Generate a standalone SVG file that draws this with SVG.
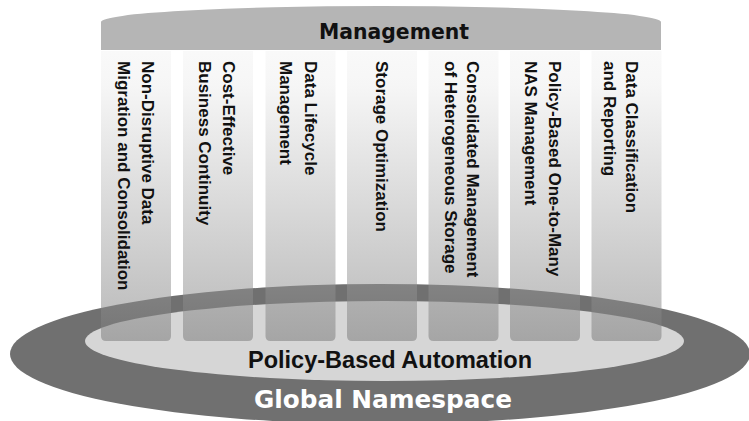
<svg xmlns="http://www.w3.org/2000/svg" width="749" height="421" viewBox="0 0 749 421">
  <style>
    .col { fill: url(#colFill); fill-opacity: 0.53; }
    .colText { font-family: "Liberation Sans", Arial, sans-serif; font-weight: bold; font-size: 17px; fill: #111; }
    .title { font-family: "DejaVu Sans", sans-serif; font-weight: bold; }
  </style>
  <defs>
    <linearGradient id="colFill" gradientUnits="userSpaceOnUse" x1="0" y1="51" x2="0" y2="341">
      <stop offset="0" stop-color="#f4f4f4"/>
      <stop offset="0.12" stop-color="#eeeeee"/>
      <stop offset="1" stop-color="#7a7a7a"/>
    </linearGradient>
    <!-- column shape: square top, rounded bottom corners -->
    <path id="colShape" d="M0,51 H70 V336 Q70,341 65,341 H5 Q0,341 0,336 Z"/>
  </defs>

  <!-- base rings -->
  <g id="global-namespace">
    <ellipse cx="380" cy="354" rx="370" ry="70" fill="#707070"/>
    <text class="title" x="254" y="408" font-size="24.8" fill="#ffffff" textLength="258" lengthAdjust="spacingAndGlyphs">Global Namespace</text>
  </g>
  <g id="policy-based-automation">
    <ellipse cx="384.5" cy="341" rx="299.5" ry="40" fill="#d6d6d6"/>
    <text x="248" y="368" font-family="'Liberation Sans', Arial, sans-serif" font-weight="bold" font-size="23.5" fill="#111" textLength="284" lengthAdjust="spacingAndGlyphs">Policy-Based Automation</text>
  </g>

  <!-- management header -->
  <g id="management">
    <path d="M101,50 V22 A280,16 0 0 1 661,22 V50 Z" fill="#b5b5b5"/>
    <text class="title" x="319" y="39" font-size="20.5" fill="#111" textLength="150" lengthAdjust="spacingAndGlyphs">Management</text>
  </g>

  <!-- service columns -->
  <g id="col-migration">
    <use href="#colShape" class="col" x="101"/>
    <text class="colText" transform="translate(142,61) rotate(90)">Non-Disruptive Data</text>
    <text class="colText" transform="translate(118,61) rotate(90)">Migration and Consolidation</text>
  </g>
  <g id="col-continuity">
    <use href="#colShape" class="col" x="183"/>
    <text class="colText" transform="translate(223,61) rotate(90)">Cost-Effective</text>
    <text class="colText" transform="translate(198.5,61) rotate(90)">Business Continuity</text>
  </g>
  <g id="col-lifecycle">
    <use href="#colShape" class="col" x="265.5"/>
    <text class="colText" transform="translate(305,61) rotate(90)">Data Lifecycle</text>
    <text class="colText" transform="translate(280,61) rotate(90)">Management</text>
  </g>
  <g id="col-optimization">
    <use href="#colShape" class="col" x="347"/>
    <text class="colText" transform="translate(376,61) rotate(90)">Storage Optimization</text>
  </g>
  <g id="col-heterogeneous">
    <use href="#colShape" class="col" x="428.5"/>
    <text class="colText" transform="translate(467,61) rotate(90)">Consolidated Management</text>
    <text class="colText" transform="translate(445,61) rotate(90)">of Heterogeneous Storage</text>
  </g>
  <g id="col-nas">
    <use href="#colShape" class="col" x="510"/>
    <text class="colText" transform="translate(548.5,61) rotate(90)">Policy-Based One-to-Many</text>
    <text class="colText" transform="translate(525,61) rotate(90)">NAS Management</text>
  </g>
  <g id="col-classification">
    <use href="#colShape" class="col" x="591.5"/>
    <text class="colText" transform="translate(626,61) rotate(90)">Data Classification</text>
    <text class="colText" transform="translate(603.5,61) rotate(90)">and Reporting</text>
  </g>

  <g id="connectors"/>
</svg>
